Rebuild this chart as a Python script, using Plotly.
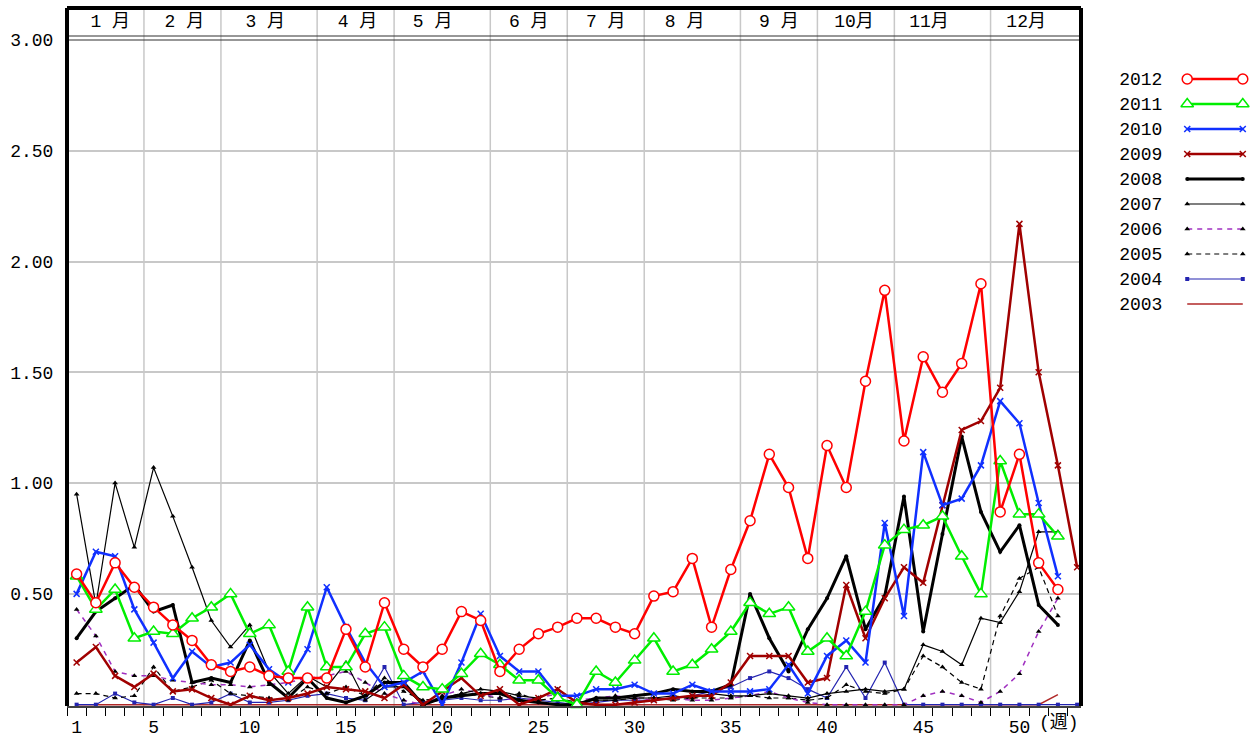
import plotly.graph_objects as go

# ---------------- data ----------------
weeks = list(range(1, 54))
years = ["2012", "2011", "2010", "2009", "2008", "2007", "2006", "2005", "2004", "2003"]

v2012 = [0.59, 0.46, 0.64, 0.53, 0.44, 0.36, 0.29, 0.18, 0.15, 0.17,
         0.13, 0.12, 0.12, 0.12, 0.34, 0.17, 0.46, 0.25, 0.17, 0.25,
         0.42, 0.38, 0.15, 0.25, 0.32, 0.35, 0.39, 0.39, 0.35, 0.32,
         0.49, 0.51, 0.66, 0.35, 0.61, 0.83, 1.13, 0.98, 0.66, 1.17,
         0.98, 1.46, 1.87, 1.19, 1.57, 1.41, 1.54, 1.90, 0.87, 1.13,
         0.64, 0.52]
v2011 = [0.58, 0.43, 0.52, 0.30, 0.33, 0.32, 0.39, 0.44, 0.50, 0.32,
         0.36, 0.15, 0.44, 0.17, 0.17, 0.32, 0.35, 0.13, 0.08, 0.07,
         0.14, 0.23, 0.18, 0.11, 0.11, 0.03, 0.00, 0.15, 0.10, 0.20,
         0.30, 0.15, 0.18, 0.25, 0.33, 0.46, 0.41, 0.44, 0.24, 0.30,
         0.22, 0.42, 0.72, 0.79, 0.81, 0.85, 0.67, 0.50, 1.10, 0.86,
         0.86, 0.76]
v2010 = [0.50, 0.69, 0.67, 0.43, 0.28, 0.12, 0.24, 0.17, 0.19, 0.27,
         0.16, 0.10, 0.25, 0.53, 0.35, 0.19, 0.08, 0.10, 0.15, 0.00,
         0.19, 0.41, 0.22, 0.15, 0.15, 0.04, 0.04, 0.07, 0.07, 0.09,
         0.05, 0.05, 0.09, 0.06, 0.06, 0.06, 0.07, 0.18, 0.05, 0.22,
         0.29, 0.19, 0.82, 0.40, 1.14, 0.90, 0.93, 1.08, 1.37, 1.27,
         0.91, 0.58]
v2009 = [0.19, 0.26, 0.13, 0.08, 0.14, 0.06, 0.07, 0.03, 0.00, 0.04,
         0.02, 0.03, 0.05, 0.08, 0.07, 0.06, 0.03, 0.09, 0.00, 0.06,
         0.12, 0.04, 0.07, 0.00, 0.03, 0.07, 0.01, 0.00, 0.00, 0.01,
         0.02, 0.03, 0.04, 0.04, 0.10, 0.22, 0.22, 0.22, 0.10, 0.12,
         0.54, 0.30, 0.48, 0.62, 0.55, 0.90, 1.24, 1.28, 1.43, 2.17,
         1.50, 1.08, 0.62]
v2008 = [0.30, 0.42, 0.48, 0.54, 0.42, 0.45, 0.10, 0.12, 0.10, 0.29,
         0.10, 0.03, 0.12, 0.03, 0.01, 0.04, 0.10, 0.10, 0.00, 0.03,
         0.04, 0.05, 0.05, 0.02, 0.01, 0.00, 0.00, 0.03, 0.03, 0.04,
         0.05, 0.07, 0.06, 0.06, 0.09, 0.50, 0.30, 0.15, 0.34, 0.48,
         0.67, 0.34, 0.49, 0.94, 0.33, 0.77, 1.21, 0.87, 0.69, 0.81,
         0.45, 0.36]
v2007 = [0.95, 0.45, 1.00, 0.71, 1.07, 0.85, 0.62, 0.38, 0.26, 0.36,
         0.15, 0.05, 0.13, 0.08, 0.19, 0.02, 0.08, 0.08, 0.00, 0.03,
         0.05, 0.07, 0.06, 0.04, 0.03, 0.07, 0.01, 0.02, 0.02, 0.03,
         0.03, 0.04, 0.03, 0.05, 0.04, 0.04, 0.05, 0.04, 0.03, 0.05,
         0.06, 0.07, 0.06, 0.07, 0.27, 0.24, 0.18, 0.39, 0.37, 0.51,
         0.78, 0.78]
v2006 = [0.43, 0.31, 0.15, 0.13, 0.13, 0.11, 0.10, 0.09, 0.09, 0.08,
         0.09, 0.10, 0.12, 0.13, 0.15, 0.10, 0.05, 0.02, 0.00, 0.04,
         0.07, 0.05, 0.03, 0.02, 0.03, 0.05, 0.02, 0.03, 0.04, 0.03,
         0.02, 0.03, 0.02, 0.02, 0.03, 0.04, 0.06, 0.03, 0.01, 0.00,
         0.00, 0.00, 0.00, 0.00, 0.04, 0.06, 0.04, 0.01, 0.06, 0.14,
         0.33, 0.48]
v2005 = [0.05, 0.05, 0.03, 0.04, 0.17, 0.06, 0.08, 0.11, 0.05, 0.04,
         0.03, 0.02, 0.08, 0.05, 0.08, 0.04, 0.12, 0.06, 0.02, 0.03,
         0.05, 0.04, 0.03, 0.05, 0.02, 0.03, 0.01, 0.02, 0.02, 0.03,
         0.03, 0.02, 0.03, 0.03, 0.03, 0.04, 0.03, 0.03, 0.02, 0.03,
         0.09, 0.06, 0.05, 0.07, 0.22, 0.17, 0.10, 0.07, 0.40, 0.57,
         0.62, 0.40]
v2004 = [0.00, 0.00, 0.05, 0.01, 0.00, 0.03, 0.00, 0.01, 0.05, 0.01,
         0.01, 0.02, 0.04, 0.05, 0.03, 0.02, 0.17, 0.00, 0.01, 0.02,
         0.03, 0.02, 0.02, 0.03, 0.02, 0.01, 0.00, 0.01, 0.02, 0.02,
         0.02, 0.03, 0.04, 0.06, 0.08, 0.12, 0.15, 0.12, 0.07, 0.03,
         0.17, 0.03, 0.19, 0.00, 0.00, 0.00, 0.00, 0.00, 0.00, 0.00,
         0.00, 0.00, 0.00]
v2003 = [0.00, 0.00, 0.00, 0.00, 0.00, 0.00, 0.00, 0.00, 0.00, 0.00,
         0.00, 0.00, 0.00, 0.00, 0.00, 0.00, 0.00, 0.00, 0.00, 0.00,
         0.00, 0.00, 0.00, 0.00, 0.00, 0.00, 0.00, 0.00, 0.00, 0.00,
         0.00, 0.00, 0.00, 0.00, 0.00, 0.00, 0.00, 0.00, 0.00, 0.00,
         0.00, 0.00, 0.00, 0.00, 0.00, 0.00, 0.00, 0.00, 0.00, 0.00,
         0.00, 0.045]

series = {"2012": v2012, "2011": v2011, "2010": v2010, "2009": v2009, "2008": v2008,
          "2007": v2007, "2006": v2006, "2005": v2005, "2004": v2004, "2003": v2003}

month_names = ["1 月", "2 月", "3 月", "4 月", "5 月", "6 月",
               "7 月", "8 月", "9 月", "10月", "11月", "12月"]
month_centers = [2.75, 6.6, 10.8, 15.6, 19.5, 24.5, 28.5, 32.6, 37.5, 41.4, 45.3, 50.35]
month_bounds = [4.5, 8.5, 13.5, 17.5, 22.5, 26.5, 30.5, 35.5, 39.5, 43.5, 48.5]
week_ticks = [1, 5, 10, 15, 20, 25, 30, 35, 40, 45, 50]
y_ticks = [0.5, 1.0, 1.5, 2.0, 2.5, 3.0]
y_ticktext = ["0.50", "1.00", "1.50", "2.00", "2.50", "3.00"]

# ---------------- styles ----------------
FONT = "Liberation Mono, Noto Sans CJK JP, monospace"
styles = {
    "2012": dict(mode="lines+markers", line=dict(color="#FF0000", width=2.5),
                 marker=dict(symbol="circle", size=10, color="white",
                             line=dict(color="#FF0000", width=1.5))),
    "2011": dict(mode="lines+markers", line=dict(color="#00EE00", width=2.5),
                 marker=dict(symbol="triangle-up", size=11, color="white",
                             line=dict(color="#00EE00", width=1.5))),
    "2010": dict(mode="lines+markers", line=dict(color="#1030FF", width=2.5),
                 marker=dict(symbol="x-thin", size=6, color="#1030FF",
                             line=dict(color="#1030FF", width=1.5))),
    "2009": dict(mode="lines+markers", line=dict(color="#A00000", width=2.5),
                 marker=dict(symbol="x-thin", size=6, color="#A00000",
                             line=dict(color="#A00000", width=1.5))),
    "2008": dict(mode="lines+markers", line=dict(color="#000000", width=3),
                 marker=dict(symbol="circle", size=4, color="#000000")),
    "2007": dict(mode="lines+markers", line=dict(color="#000000", width=1.2),
                 marker=dict(symbol="triangle-up", size=5, color="#000000")),
    "2006": dict(mode="lines+markers", line=dict(color="#A030C0", width=1.5, dash="5px,5px"),
                 marker=dict(symbol="triangle-up", size=5, color="#000000")),
    "2005": dict(mode="lines+markers", line=dict(color="#000000", width=1.2, dash="5px,4px"),
                 marker=dict(symbol="triangle-up", size=5, color="#000000")),
    "2004": dict(mode="lines+markers", line=dict(color="#2424B0", width=1.2),
                 marker=dict(symbol="square", size=4, color="#2424B0")),
    "2003": dict(mode="lines", line=dict(color="#B02828", width=1.5)),
}

fig = go.Figure()

# draw oldest first so 2012 is on top
for yr in reversed(years):
    vals = series[yr]
    fig.add_trace(go.Scatter(x=weeks[:len(vals)], y=vals, name=yr, showlegend=False,
                             cliponaxis=False, **styles[yr]))

# carrier for the month axis
fig.add_trace(go.Scatter(x=[], y=[], xaxis="x2", yaxis="y", showlegend=False, hoverinfo="skip"))

# custom legend (text on left, sample on right)
for i, yr in enumerate(years):
    fig.add_trace(go.Scatter(x=[0, 1], y=[i, i], xaxis="x3", yaxis="y3", showlegend=False,
                             hoverinfo="skip", cliponaxis=False, **styles[yr]))

W, H = 1258, 747
P_LEFT, P_TOP, P_BOTTOM, P_RIGHT = 67, 40, 706, 1081   # pixels of the plot area
LEG_RIGHT = 1245
ML, MT = P_LEFT, P_TOP
MB = H - P_BOTTOM
MR = W - LEG_RIGHT
pw = W - ML - MR
ph = H - MT - MB


def xd(p):
    return (p - P_LEFT) / pw


def yd(p):
    return (P_BOTTOM - p) / ph


main_right = xd(P_RIGHT)
hdr_top = yd(8)

fig.update_layout(
    width=W, height=H,
    margin=dict(l=ML, r=MR, t=MT, b=MB, pad=0, autoexpand=False),
    paper_bgcolor="white", plot_bgcolor="white",
    showlegend=False,
    font=dict(family=FONT, size=18, color="black"),
    xaxis=dict(domain=[0, main_right], range=[0.5, 53.2], anchor="y",
               tickmode="array", tickvals=week_ticks, ticktext=[str(t) for t in week_ticks],
               ticks="outside", ticklen=3, tickcolor="rgba(0,0,0,0)",
               showgrid=False, zeroline=False,
               showline=True, linecolor="#404040", linewidth=2,
               minor=dict(tickmode="linear", tick0=0.5, dtick=1, ticks="outside",
                          ticklen=8, tickwidth=1, tickcolor="#000000", showgrid=False),
               tickfont=dict(family=FONT, size=18, color="black")),
    xaxis2=dict(overlaying="x", side="top", anchor="y", range=[0.5, 53.2],
                tickmode="array", tickvals=month_centers, ticktext=month_names,
                ticks="outside", ticklen=5, tickcolor="rgba(0,0,0,0)",
                showgrid=False, zeroline=False, showline=False,
                tickfont=dict(family=FONT, size=18, color="black")),
    yaxis=dict(domain=[0, 1], range=[-0.006, 3.0], anchor="x",
               tickmode="array", tickvals=y_ticks, ticktext=y_ticktext,
               ticks="outside", ticklen=9, tickcolor="rgba(0,0,0,0)",
               showgrid=True, gridcolor="#C8C8C8", gridwidth=1.5,
               zeroline=False, showline=False,
               tickfont=dict(family=FONT, size=18, color="black")),
    xaxis3=dict(domain=[xd(1185), xd(1245)], range=[-0.04, 1.04],
                anchor="y3", visible=False),
    yaxis3=dict(domain=[yd(316.5), yd(66.5)], range=[9.5, -0.5],
                anchor="x3", tickmode="array", tickvals=list(range(len(years))), ticktext=years,
                ticks="outside", ticklen=18, tickcolor="rgba(0,0,0,0)",
                showgrid=False, zeroline=False, showline=False,
                tickfont=dict(family=FONT, size=18, color="black")),
)

# month separators (run through the header band)
for b in month_bounds:
    fig.add_shape(type="line", xref="x", yref="y domain", x0=b, x1=b, y0=0, y1=hdr_top,
                  line=dict(color="#C8C8C8", width=1.5), layer="below")

# double rule under the month header
for yy in [1.0, 1.0 + 4 / ph]:
    fig.add_shape(type="line", xref="x domain", yref="y domain", x0=0, x1=1, y0=yy, y1=yy,
                  line=dict(color="#303030", width=1.2))

# heavy frame: left, top, right
fig.add_shape(type="line", xref="x domain", yref="y domain", x0=0, x1=0, y0=0, y1=hdr_top,
              line=dict(color="black", width=4))
fig.add_shape(type="line", xref="x domain", yref="y domain", x0=0, x1=1, y0=hdr_top, y1=hdr_top,
              line=dict(color="black", width=4))
fig.add_shape(type="line", xref="x domain", yref="y domain", x0=1, x1=1, y0=0, y1=hdr_top,
              line=dict(color="black", width=4))

fig.add_annotation(text="(週)", xref="x domain", yref="y domain", x=1.0, y=0,
                   xanchor="right", yanchor="top", yshift=-4, showarrow=False,
                   font=dict(family=FONT, size=18, color="black"))

# remove the browser's default 8px body margin so the figure sits at the page origin
fig.write_html("out.html",
               config={"displayModeBar": False},
               post_script="document.body.style.margin='0px';document.body.style.overflow='hidden';")
